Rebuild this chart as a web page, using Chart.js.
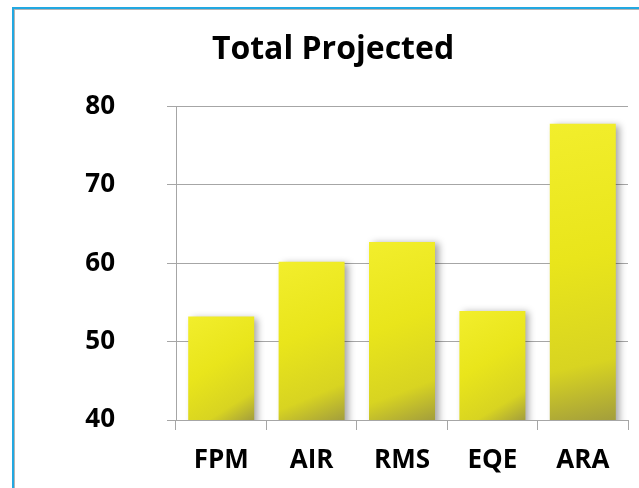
<!DOCTYPE html>
<html>
<head>
<meta charset="utf-8">
<title>Total Projected</title>
<script src="https://cdn.jsdelivr.net/npm/chart.js@4.4.0/dist/chart.umd.min.js"></script>
<style>
    html, body { margin: 0; padding: 0; background: #fff; }
    body { width: 639px; height: 488px; position: relative; overflow: hidden; }
    .frame {
        position: absolute; left: 12px; top: 7px; right: -10px; bottom: -10px;
        border-left: 2px solid #22a8e1; border-top: 2px solid #22a8e1;
    }
    .frame-inner {
        position: absolute; left: 0; top: 0; right: 0; bottom: 0;
        border-left: 1px solid #b4b4b4; border-top: 1px solid #b4b4b4;
    }
    #graficoTotal { position: absolute; left: 0; top: 0; }
</style>
</head>
<body>
<div class="frame"><div class="frame-inner"></div></div>
<canvas id="graficoTotal" width="639" height="488"></canvas>
<script>
// ========== DADOS ==========
const categorias = ['FPM', 'AIR', 'RMS', 'EQE', 'ARA'];
const valores = [53.2, 60.2, 62.7, 53.9, 77.8];
const ticksY = [40, 50, 60, 70, 80];

const fonte = "'Open Sans', 'DejaVu Sans', sans-serif";

// Gradiente diagonal por barra: amarelo claro no topo, oliva no canto inferior direito
function corBarra(ctx) {
    const chart = ctx.chart;
    const xs = chart.scales.x, ys = chart.scales.y;
    if (!xs || !ys || ctx.type !== 'data') return '#e8e41a';
    const largura = (xs.width / categorias.length) * 0.73;
    const cx = xs.getPixelForValue(ctx.dataIndex);
    const top = ys.getPixelForValue(valores[ctx.dataIndex]);
    const base = ys.getPixelForValue(ticksY[0]);
    if (![largura, cx, top, base].every(Number.isFinite)) return '#e8e41a';
    const g = chart.ctx.createLinearGradient(cx - largura / 2, top, cx + largura / 2, base);
    g.addColorStop(0, '#f2ee2c');
    g.addColorStop(0.45, '#e9e51b');
    g.addColorStop(0.8, '#d8d421');
    g.addColorStop(1, '#a39e3c');
    return g;
}

// Sombra suave à direita das barras
const sombraBarras = {
    id: 'sombraBarras',
    beforeDatasetsDraw(chart) {
        const c = chart.ctx;
        c.save();
        c.shadowColor = 'rgba(0,0,0,0.35)';
        c.shadowBlur = 7;
        c.shadowOffsetX = 4;
        c.shadowOffsetY = 1;
    },
    afterDatasetsDraw(chart) {
        chart.ctx.restore();
    }
};

new Chart(document.getElementById('graficoTotal'), {
    type: 'bar',
    data: {
        labels: categorias,
        datasets: [{
            label: 'Total Projected',
            data: valores,
            backgroundColor: corBarra,
            borderWidth: 0,
            categoryPercentage: 0.73,
            barPercentage: 1
        }]
    },
    options: {
        responsive: false,
        animation: false,
        layout: { padding: { left: 38, right: 11, top: 0, bottom: 0 } },
        plugins: {
            legend: { display: false },
            tooltip: { enabled: false },
            title: {
                display: true,
                text: 'Total Projected',
                color: '#000',
                font: { family: fonte, size: 32, weight: 'bold', lineHeight: 1.2 },
                padding: { top: 31, bottom: 37 }
            }
        },
        scales: {
            y: {
                min: 40,
                max: 80,
                afterBuildTicks: axis => { axis.ticks = ticksY.map(v => ({ value: v })); },
                afterFit: axis => { axis.width = 138; },
                border: { color: '#a6a6a6', width: 1 },
                grid: { color: '#a6a6a6', tickLength: 9, lineWidth: 1 },
                ticks: {
                    color: '#000',
                    padding: 52,
                    font: { family: fonte, size: 26, weight: 'bold' }
                }
            },
            x: {
                afterFit: axis => { axis.height = 68; },
                border: { color: '#a6a6a6', width: 1 },
                grid: { drawOnChartArea: false, color: '#a6a6a6', tickLength: 10 },
                ticks: {
                    color: '#000',
                    padding: 15,
                    font: { family: fonte, size: 26, weight: 'bold' }
                }
            }
        }
    },
    plugins: [sombraBarras]
});
</script>
</body>
</html>
